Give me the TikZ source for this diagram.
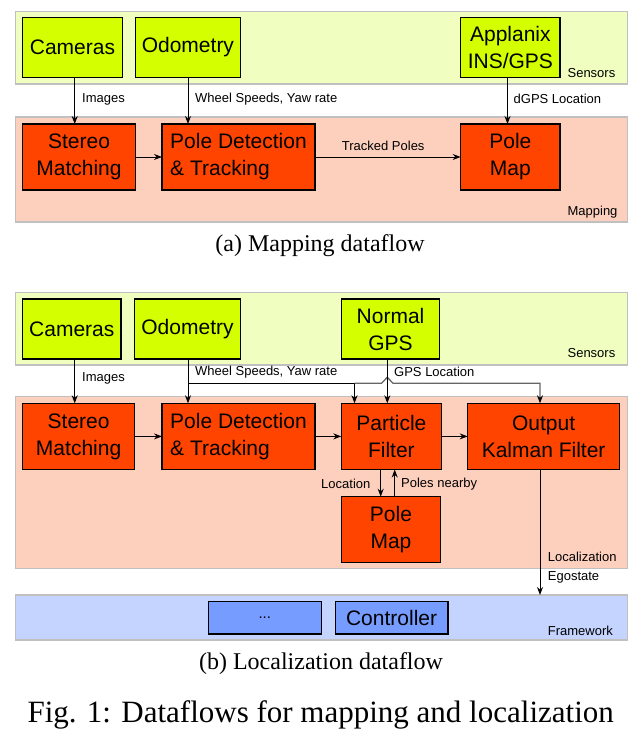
\documentclass[tikz,border=0pt]{standalone}
\usepackage{fontspec}
\setmainfont{Liberation Serif}
\setsansfont{Liberation Sans}
\usetikzlibrary{arrows.meta}
\definecolor{sensband}{HTML}{F0FFC0}
\definecolor{sensbox}{HTML}{D4FF00}
\definecolor{mapband}{HTML}{FDD0BE}
\definecolor{orangebox}{HTML}{FF4400}
\definecolor{fwband}{HTML}{C4D4FF}
\definecolor{fwbox}{HTML}{779CFF}
\definecolor{bandline}{HTML}{C0C0C0}
\begin{document}
\begin{tikzpicture}[x=1pt,y=-1pt,
  bandbox/.style={draw=bandline, line width=1.5pt, inner sep=0pt, outer sep=0pt, minimum width=612},
  boxbase/.style={draw=black, line width=1.2pt, inner sep=0pt, outer sep=0pt, align=center,
     font=\sffamily\fontsize{21}{27}\selectfont},
  sbox/.style={boxbase, fill=sensbox},
  obox/.style={boxbase, fill=orangebox},
  fwnode/.style={boxbase, fill=fwbox},
  lbl/.style={font=\sffamily\fontsize{13}{15}\selectfont, inner sep=0pt, anchor=west},
  arr/.style={-{Stealth[length=8pt,width=6pt]}, line width=1pt},
  grayarr/.style={-{Stealth[length=8pt,width=6pt,color=black]}, line width=1.3pt, draw=black!60},
  captxt/.style={font=\fontsize{24}{28}\selectfont, inner sep=0pt}]
\useasboundingbox (0,0) rectangle (640,733);

% ---------------- (a) Mapping dataflow ----------------
\node[bandbox, fill=sensband, minimum height=72.3] (sensA) at (321.65,47.85) {};
\node[bandbox, fill=mapband, minimum height=105] (mapA) at (321.65,169.5) {};
\node[lbl] (sensAl) at (567.4,73) {Sensors};
\node[lbl] (mapAl) at (567.4,212) {Mapping};

\node[sbox, minimum width=99.7, minimum height=60] (camA) at (72.45,47.5) {Cameras};
\node[sbox, minimum width=105, minimum height=60] (odoA) at (187.9,47.5) {Odometry};
\node[sbox, minimum width=99.3, minimum height=60] (appl) at (510.35,47.5) {Applanix\\INS/GPS};

\node[obox, minimum width=112.8, minimum height=66] (stA) at (79,157) {Stereo\\Matching};
\node[obox, minimum width=153, minimum height=66, align=left] (pdA) at (238.5,157) {Pole Detection\\\& Tracking};
\node[obox, minimum width=99.3, minimum height=66] (pmA) at (510.35,157) {Pole\\Map};

\draw[arr] (camA.south -| 74.7,0) -- (stA.north -| 74.7,0);
\draw[arr] (odoA.south -| 188,0) -- (pdA.north -| 188,0);
\draw[arr] (appl.south -| 507.5,0) -- (pmA.north -| 507.5,0);
\draw[arr] (stA.east) -- (pdA.west);
\draw[arr] (pdA.east) -- (pmA.west);

\node[lbl] (imgA) at (82,99) {Images};
\node[lbl] (wsA) at (195,99) {Wheel Speeds, Yaw rate};
\node[lbl] (dgps) at (513.5,99) {dGPS Location};
\node[lbl] (trk) at (341.7,145.7) {Tracked Poles};

\node[captxt] (capA) at (320,246) {(a) Mapping dataflow};

% ---------------- (b) Localization dataflow ----------------
\node[bandbox, fill=sensband, minimum height=72.3] (sensB) at (321.65,328.85) {};
\node[bandbox, fill=mapband, minimum height=171.6] (mapB) at (321.65,482.5) {};
\node[bandbox, fill=fwband, minimum height=45] (fwB) at (321.65,617.5) {};
\node[lbl] (sensBl) at (567.4,352.7) {Sensors};
\node[lbl] (fwBl) at (547.7,630.7) {Framework};

\node[sbox, minimum width=98.4, minimum height=60] (camB) at (71.8,329) {Cameras};
\node[sbox, minimum width=105.8, minimum height=60] (odoB) at (187.5,329) {Odometry};
\node[sbox, minimum width=98.5, minimum height=60] (gps) at (390.55,329) {Normal\\GPS};

\node[obox, minimum width=112, minimum height=66.2] (stB) at (78.6,436.4) {Stereo\\Matching};
\node[obox, minimum width=153, minimum height=66.2, align=left] (pdB) at (238.5,436.4) {Pole Detection\\\& Tracking};
\node[obox, minimum width=100.1, minimum height=66.2] (pf) at (391.35,436.4) {Particle\\Filter};
\node[obox, minimum width=151.8, minimum height=66.2] (kal) at (543.6,436.4) {Output\\Kalman Filter};
\node[obox, minimum width=99.3, minimum height=66] (pmB) at (390.95,529.7) {Pole\\Map};

\node[fwnode, minimum width=112.8, minimum height=32.3] (dots) at (264.8,617.85) {\fontsize{15}{18}\selectfont ...};
\node[fwnode, minimum width=112.8, minimum height=32.3] (ctrl) at (391.6,617.85) {Controller};

\coordinate (odj) at (188,383.3);
\coordinate (gj) at (354.5,383.3);
\coordinate (hopL) at (381.5,383.3);
\coordinate (hopT) at (387.3,377.3);
\coordinate (hopR) at (393,383.3);

\draw[arr] (camB.south -| 74.7,0) -- (stB.north -| 74.7,0);
\draw[arr] (odoB.south -| odj) -- (pdB.north -| odj);
\draw[arr] (odj) -| (pf.north -| gj);
\draw[grayarr] (gj) -- (hopL) -- (hopT) -- (hopR) -| (kal.north -| 540,0);
\draw[arr] (gps.south -| 387.3,0) -- (pf.north -| 387.3,0);
\draw[arr] (stB.east) -- (pdB.west);
\draw[arr] (pdB.east) -- (pf.west);
\draw[arr] (pf.east) -- (kal.west);
\draw[arr] (pf.south -| 380.7,0) -- (pmB.north -| 380.7,0);
\draw[arr] (pmB.north -| 394.7,0) -- (pf.south -| 394.7,0);
\draw[arr] (kal.south -| 540,0) -- (fwB.north -| 540,0);

\node[lbl] (imgB) at (82,378.7) {Images};
\node[lbl] (wsB) at (195,372) {Wheel Speeds, Yaw rate};
\node[lbl] (gpsl) at (394,372) {GPS Location};
\node[lbl] (locl) at (321,484.3) {Location};
\node[lbl] (pnl) at (401,484.3) {Poles nearby};
\node[lbl] (lzl) at (547.7,557.3) {Localization};
\node[lbl] (egl) at (547.7,577) {Egostate};

\node[captxt] (capB) at (321,664) {(b) Localization dataflow};
\node[captxt, font=\fontsize{31}{36}\selectfont] (fig) at (320.7,715) {Fig. 1: Dataflows for mapping and localization};
\end{tikzpicture}
\end{document}
